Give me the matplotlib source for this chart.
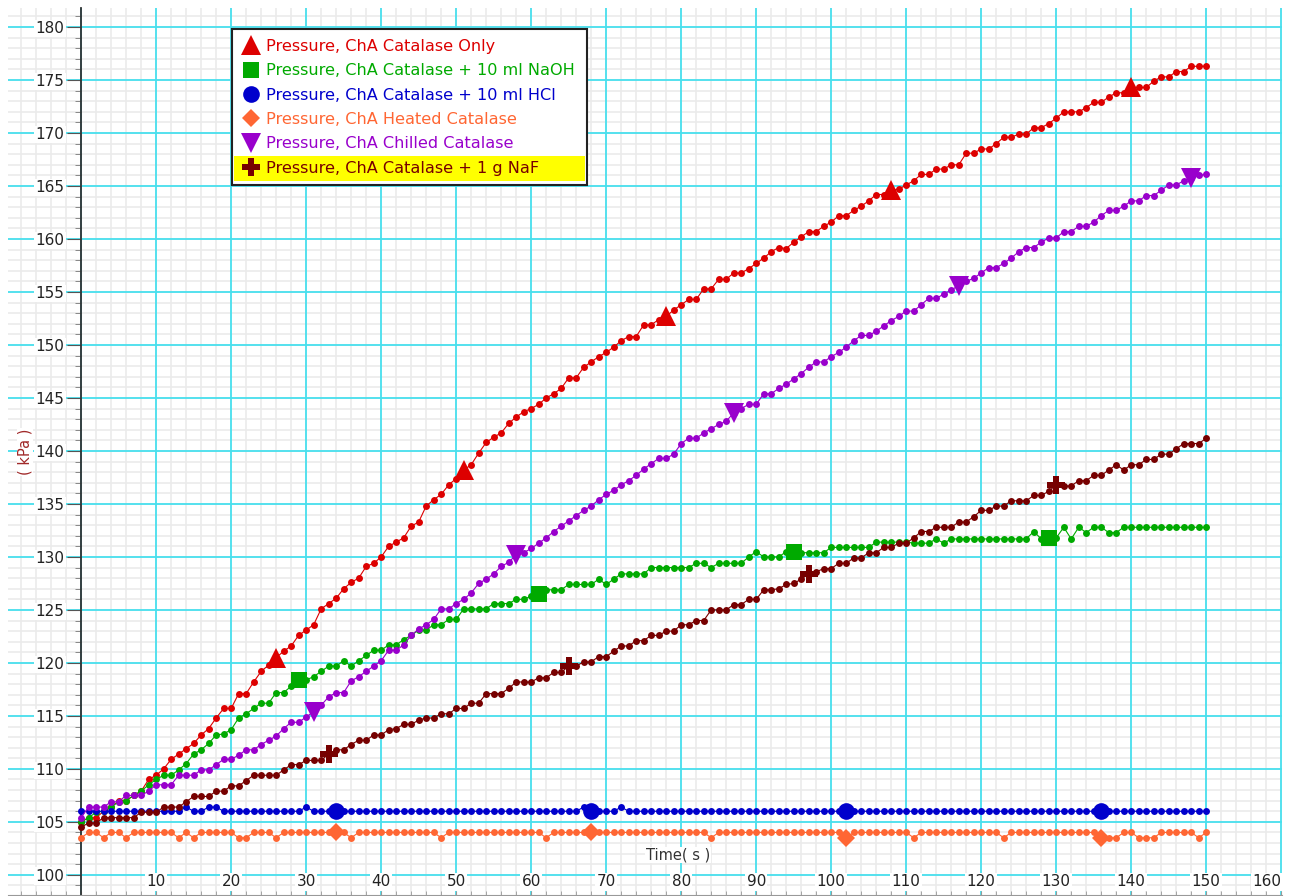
import matplotlib
matplotlib.use("Agg")
import matplotlib.pyplot as plt
from matplotlib.lines import Line2D
from matplotlib.patches import Rectangle
from matplotlib.transforms import IdentityTransform
from matplotlib.ticker import MultipleLocator

# time axis, one reading per second
time_s = list(range(0, 151))

# Pressure (kPa) per run
catalase_only = [
    105.0, 105.4, 105.4, 106.0, 106.4, 107.0, 107.0, 107.5, 107.9, 109.0,
    109.4, 110.0, 110.9, 111.4, 111.9, 112.4, 113.2, 113.8, 114.8, 115.7,
    115.7, 117.1, 117.1, 118.2, 119.2, 119.8, 120.5, 121.1, 121.6, 122.6,
    123.1, 123.6, 125.1, 125.6, 126.1, 127.0, 127.6, 128.0, 129.1, 129.4,
    130.0, 131.0, 131.4, 131.8, 132.9, 133.3, 134.8, 135.4, 135.9, 136.8,
    137.4, 138.2, 138.7, 139.8, 140.8, 141.3, 141.7, 142.6, 143.2, 143.7,
    144.0, 144.4, 145.0, 145.4, 145.9, 146.9, 146.9, 147.9, 148.4, 148.9,
    149.3, 149.8, 150.4, 150.8, 150.8, 151.9, 151.9, 152.4, 152.7, 153.3,
    153.8, 154.3, 154.3, 155.3, 155.3, 156.2, 156.2, 156.8, 156.8, 157.2,
    157.7, 158.2, 158.8, 159.2, 159.1, 159.7, 160.2, 160.7, 160.7, 161.2,
    161.6, 162.2, 162.2, 162.7, 163.1, 163.6, 164.2, 164.2, 164.6, 164.7,
    165.1, 165.5, 166.1, 166.1, 166.6, 166.6, 167.0, 167.0, 168.1, 168.1,
    168.5, 168.5, 169.0, 169.6, 169.6, 169.9, 169.9, 170.5, 170.5, 170.9,
    171.4, 172.0, 172.0, 172.0, 172.4, 172.9, 172.9, 173.4, 173.8, 173.8,
    174.3, 174.3, 174.3, 174.9, 175.3, 175.3, 175.8, 175.8, 176.3, 176.3,
    176.3]

catalase_naoh = [
    105.0, 105.4, 105.9, 106.0, 106.4, 106.9, 107.0, 107.5, 107.9, 108.5,
    109.0, 109.4, 109.4, 109.9, 110.5, 111.4, 111.8, 112.4, 113.2, 113.3,
    113.7, 114.8, 115.2, 115.7, 116.2, 116.2, 117.2, 117.2, 117.8, 118.4,
    118.4, 118.7, 119.2, 119.7, 119.7, 120.2, 119.7, 120.2, 120.7, 121.2,
    121.2, 121.7, 121.7, 122.2, 122.6, 123.1, 123.1, 123.6, 123.6, 124.1,
    124.1, 125.1, 125.1, 125.1, 125.1, 125.6, 125.6, 125.6, 126.0, 126.0,
    126.3, 126.5, 126.9, 126.9, 126.9, 127.4, 127.4, 127.4, 127.4, 127.9,
    127.4, 127.9, 128.4, 128.4, 128.4, 128.4, 129.0, 129.0, 129.0, 129.0,
    129.0, 129.0, 129.4, 129.4, 129.0, 129.4, 129.4, 129.4, 129.4, 130.0,
    130.5, 130.0, 130.0, 130.0, 130.5, 130.5, 130.4, 130.4, 130.4, 130.4,
    130.9, 130.9, 130.9, 130.9, 130.9, 130.9, 131.4, 131.4, 131.4, 131.4,
    131.4, 131.3, 131.3, 131.3, 131.7, 131.3, 131.7, 131.7, 131.7, 131.7,
    131.7, 131.7, 131.7, 131.7, 131.7, 131.7, 131.7, 132.4, 131.7, 131.8,
    131.8, 132.8, 131.7, 132.8, 132.3, 132.8, 132.8, 132.3, 132.3, 132.8,
    132.8, 132.8, 132.8, 132.8, 132.8, 132.8, 132.8, 132.8, 132.8, 132.8,
    132.8]

catalase_hcl = [
    106.0, 106.0, 106.0, 106.0, 106.0, 106.0, 106.0, 106.0, 106.0, 106.0,
    106.0, 106.0, 106.0, 106.0, 106.4, 106.0, 106.0, 106.4, 106.4, 106.0,
    106.0, 106.0, 106.0, 106.0, 106.0, 106.0, 106.0, 106.0, 106.0, 106.0,
    106.4, 106.0, 106.0, 106.0, 106.0, 106.0, 106.0, 106.0, 106.0, 106.0,
    106.0, 106.0, 106.0, 106.0, 106.0, 106.0, 106.0, 106.0, 106.0, 106.0,
    106.0, 106.0, 106.0, 106.0, 106.0, 106.0, 106.0, 106.0, 106.0, 106.0,
    106.0, 106.0, 106.0, 106.0, 106.0, 106.0, 106.0, 106.4, 106.0, 106.0,
    106.0, 106.0, 106.4, 106.0, 106.0, 106.0, 106.0, 106.0, 106.0, 106.0,
    106.0, 106.0, 106.0, 106.0, 106.0, 106.0, 106.0, 106.0, 106.0, 106.0,
    106.0, 106.0, 106.0, 106.0, 106.0, 106.0, 106.0, 106.0, 106.0, 106.0,
    106.0, 106.0, 106.0, 106.0, 106.0, 106.0, 106.0, 106.0, 106.0, 106.0,
    106.0, 106.0, 106.0, 106.0, 106.0, 106.0, 106.0, 106.0, 106.0, 106.0,
    106.0, 106.0, 106.0, 106.0, 106.0, 106.0, 106.0, 106.0, 106.0, 106.0,
    106.0, 106.0, 106.0, 106.0, 106.0, 106.0, 106.0, 106.0, 106.0, 106.0,
    106.0, 106.0, 106.0, 106.0, 106.0, 106.0, 106.0, 106.0, 106.0, 106.0,
    106.0]

heated_catalase = [
    103.5, 104.0, 104.0, 103.5, 104.0, 104.0, 103.5, 104.0, 104.0, 104.0,
    104.0, 104.0, 104.0, 103.5, 104.0, 103.5, 104.0, 104.0, 104.0, 104.0,
    104.0, 103.5, 103.5, 104.0, 104.0, 104.0, 103.5, 104.0, 104.0, 104.0,
    104.0, 104.0, 104.0, 104.0, 104.0, 104.0, 103.5, 104.0, 104.0, 104.0,
    104.0, 104.0, 104.0, 104.0, 104.0, 104.0, 104.0, 104.0, 103.5, 104.0,
    104.0, 104.0, 104.0, 104.0, 104.0, 104.0, 104.0, 104.0, 104.0, 104.0,
    104.0, 104.0, 103.5, 104.0, 104.0, 104.0, 104.0, 104.0, 104.0, 104.0,
    104.0, 104.0, 104.0, 104.0, 104.0, 104.0, 104.0, 104.0, 104.0, 104.0,
    104.0, 104.0, 104.0, 104.0, 103.5, 104.0, 104.0, 104.0, 104.0, 104.0,
    104.0, 104.0, 104.0, 104.0, 104.0, 104.0, 104.0, 104.0, 104.0, 104.0,
    104.0, 104.0, 103.5, 104.0, 104.0, 104.0, 104.0, 104.0, 104.0, 104.0,
    104.0, 103.5, 104.0, 104.0, 104.0, 104.0, 104.0, 104.0, 104.0, 104.0,
    104.0, 104.0, 104.0, 103.5, 104.0, 104.0, 104.0, 104.0, 104.0, 104.0,
    104.0, 104.0, 104.0, 104.0, 104.0, 104.0, 103.5, 103.5, 103.5, 104.0,
    104.0, 103.5, 103.5, 103.5, 104.0, 104.0, 104.0, 104.0, 104.0, 103.5,
    104.0]

chilled_catalase = [
    105.4, 106.4, 106.4, 106.4, 106.9, 106.9, 107.5, 107.5, 107.5, 107.9,
    108.5, 108.5, 108.5, 109.4, 109.4, 109.4, 109.9, 109.9, 110.4, 110.9,
    110.9, 111.3, 111.8, 111.8, 112.3, 112.7, 113.1, 113.8, 114.4, 114.4,
    114.9, 115.4, 116.0, 116.8, 117.2, 117.2, 118.3, 118.7, 119.2, 119.7,
    120.2, 121.2, 121.2, 121.7, 122.6, 123.2, 123.6, 124.1, 125.1, 125.1,
    125.6, 126.0, 126.6, 127.5, 127.9, 128.4, 129.1, 129.5, 130.2, 130.4,
    130.8, 131.3, 131.8, 132.4, 132.9, 133.4, 133.9, 134.4, 134.8, 135.4,
    135.9, 136.3, 136.8, 137.2, 137.7, 138.3, 138.8, 139.3, 139.3, 139.7,
    140.7, 141.2, 141.2, 141.7, 142.1, 142.5, 142.8, 143.6, 144.0, 144.4,
    144.4, 145.4, 145.4, 145.9, 146.3, 146.8, 147.3, 147.9, 148.4, 148.4,
    148.9, 149.3, 149.8, 150.4, 150.9, 150.9, 151.3, 151.8, 152.3, 152.7,
    153.2, 153.2, 153.8, 154.4, 154.4, 154.8, 155.2, 155.6, 156.0, 156.3,
    156.8, 157.3, 157.3, 157.7, 158.2, 158.8, 159.2, 159.2, 159.7, 160.1,
    160.1, 160.7, 160.7, 161.2, 161.2, 161.6, 162.2, 162.7, 162.7, 163.1,
    163.6, 163.6, 164.1, 164.1, 164.6, 165.1, 165.1, 165.5, 165.8, 166.0,
    166.1]

catalase_naf = [
    104.5, 104.9, 104.9, 105.4, 105.4, 105.4, 105.4, 105.4, 105.9, 105.9,
    105.9, 106.4, 106.4, 106.4, 106.9, 107.4, 107.4, 107.4, 107.9, 107.9,
    108.4, 108.4, 108.9, 109.4, 109.4, 109.4, 109.4, 109.9, 110.4, 110.4,
    110.8, 110.8, 110.8, 111.4, 111.8, 111.8, 112.3, 112.7, 112.7, 113.2,
    113.2, 113.7, 113.8, 114.2, 114.2, 114.6, 114.8, 114.8, 115.2, 115.2,
    115.7, 115.7, 116.2, 116.2, 117.1, 117.1, 117.1, 117.6, 118.2, 118.2,
    118.2, 118.6, 118.6, 119.1, 119.1, 119.7, 119.7, 120.1, 120.1, 120.6,
    120.6, 121.1, 121.6, 121.6, 122.1, 122.1, 122.6, 122.6, 123.0, 123.0,
    123.6, 123.6, 124.0, 124.0, 125.0, 125.0, 125.0, 125.5, 125.5, 126.0,
    126.0, 126.9, 126.9, 127.0, 127.4, 127.5, 127.9, 128.4, 128.6, 128.9,
    128.9, 129.4, 129.4, 129.9, 129.9, 130.4, 130.4, 130.9, 130.9, 131.3,
    131.3, 131.8, 132.4, 132.4, 132.8, 132.8, 132.8, 133.3, 133.3, 133.8,
    134.4, 134.4, 134.8, 134.8, 135.3, 135.3, 135.3, 135.8, 135.8, 136.2,
    136.8, 136.7, 136.7, 137.2, 137.2, 137.7, 137.7, 138.2, 138.7, 138.2,
    138.7, 138.7, 139.2, 139.2, 139.7, 139.7, 140.2, 140.7, 140.7, 140.7,
    141.2]

# times where the big "point protector" symbols sit
big_only = [26, 51, 78, 108, 140]
big_naoh = [29, 61, 95, 129]
big_hcl = [34, 68, 102, 136]
big_heated = [34, 68, 102, 136]
big_chilled = [31, 58, 87, 117, 148]
big_naf = [33, 65, 97, 130]

labels = [
    "Pressure, ChA Catalase Only",
    "Pressure, ChA Catalase + 10 ml NaOH",
    "Pressure, ChA Catalase + 10 ml HCl",
    "Pressure, ChA Heated Catalase",
    "Pressure, ChA Chilled Catalase",
    "Pressure, ChA Catalase + 1 g NaF",
]
colors = ["#dd0000", "#00aa00", "#0000cc", "#ff6633", "#9900cc", "#770000"]
markers = ["^", "s", "o", "D", "v", "P"]
msizes = [14, 12, 12, 9, 14, 13]

all_series = [catalase_only, catalase_naoh, catalase_hcl,
              heated_catalase, chilled_catalase, catalase_naf]
all_big = [big_only, big_naoh, big_hcl, big_heated, big_chilled, big_naf]

x_ticks = list(range(10, 170, 10))

fig = plt.figure(figsize=(12.92, 8.96), dpi=100)
ax = fig.add_axes([8 / 1292, 1 / 896, 1274 / 1292, 887 / 896])

for vals, big, c, m, ms in zip(all_series, all_big, colors, markers, msizes):
    ax.plot(time_s, vals, color=c, lw=0.8, marker="o", ms=5, mew=0, zorder=3)
    bx = [time_s[i] for i in big]
    by = [vals[i] for i in big]
    ax.plot(bx, by, color=c, ls="none", marker=m, ms=ms, mew=0, zorder=4)

ax.set_xlim(-9.75, 160.1)
ax.set_ylim(98.1, 181.8)

# light minor grid underneath, cyan major grid from the axes on top of it
for gx in range(-8, 161, 2):
    ax.axvline(gx, color="#ebebeb", lw=1.2, zorder=0.1)
for gy in range(99, 182):
    ax.axhline(gy, color="#ebebeb", lw=1.2, zorder=0.1)

ax.xaxis.set_major_locator(MultipleLocator(10))
ax.xaxis.set_minor_locator(MultipleLocator(2))
ax.yaxis.set_major_locator(MultipleLocator(5))
ax.yaxis.set_minor_locator(MultipleLocator(1))
ax.set_axisbelow(True)
ax.grid(which="major", color="#48e0ee", lw=1.3)

for side in ["top", "right"]:
    ax.spines[side].set_visible(False)
ax.spines["left"].set_position(("data", 0))
ax.spines["left"].set_color("#333333")
ax.spines["left"].set_linewidth(1.3)
ax.spines["bottom"].set_color("#999999")

ax.tick_params(axis="y", which="major", length=10, color="#555555",
               labelsize=11, labelcolor="#222222", pad=2)
ax.tick_params(axis="y", which="minor", length=4.5, color="#777777")
ax.tick_params(axis="x", which="both", direction="in", length=3,
               color="#999999", labelbottom=False)
for lab in ax.get_yticklabels():
    lab.set_bbox(dict(facecolor="white", edgecolor="none", pad=1.0))

for t in x_ticks:
    ax.text(t, 99.35, str(t), ha="right" if t == x_ticks[-1] else "center",
            va="center", fontsize=11, color="#222222", zorder=6,
            bbox=dict(facecolor="white", edgecolor="none", pad=1.0))

ax.text(79.6, 101.9, "Time( s )", ha="center", va="center", fontsize=10.5,
        color="#333333", zorder=6,
        bbox=dict(facecolor="white", edgecolor="none", pad=0.5))
fig.text(25 / 1292, 1 - 452 / 896, "( kPa )", rotation=90, ha="center",
         va="center", fontsize=10.5, color="#a02828",
         bbox=dict(facecolor="white", edgecolor="none", pad=0.5))

handles = [Line2D([], [], color=c, marker=m, ms=ms, ls="none", mew=0)
           for c, m, ms in zip(colors, markers, msizes)]
leg = ax.legend(handles, labels, loc="upper left",
                bbox_to_anchor=(0.176, 0.976), frameon=False, fontsize=11.6,
                handlelength=1.1, handletextpad=0.4, labelspacing=0.58,
                borderpad=0.6, borderaxespad=0)
leg.set_zorder(10)
for txt, c in zip(leg.get_texts(), colors):
    txt.set_color(c)

fig.canvas.draw()
fb = leg.get_window_extent()
tb = leg.get_texts()[-1].get_window_extent()
extra = 3
ax.add_artist(Rectangle((fb.x0, fb.y0), fb.width + extra, fb.height,
                        transform=IdentityTransform(), facecolor="white",
                        edgecolor="#222222", lw=1.5, zorder=8, clip_on=False))
ax.add_artist(Rectangle((fb.x0 + 2, tb.y0 - 5), fb.width + extra - 4,
                        tb.height + 10, transform=IdentityTransform(),
                        facecolor="#ffff00", edgecolor="none", zorder=9,
                        clip_on=False))

fig.savefig("out.png", dpi=100)
